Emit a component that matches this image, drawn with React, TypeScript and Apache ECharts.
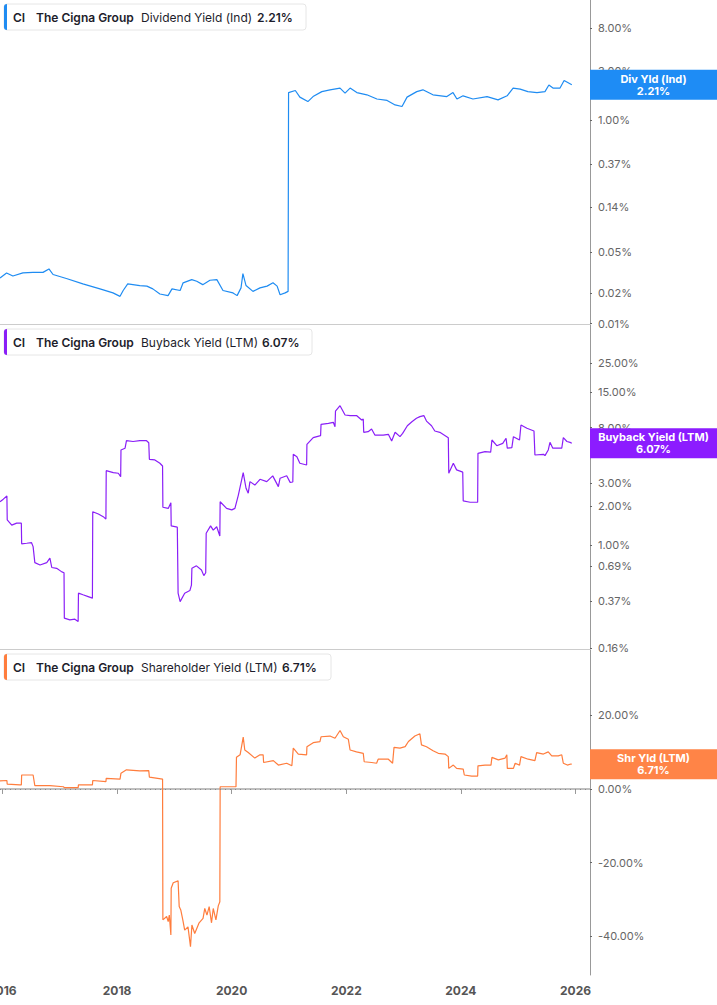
import React, { useEffect, useRef } from 'react'
import * as echarts from 'echarts'

// Dividend yield (indicated), %
const dividendYield: [string, number][] = [
  ['2015-12-17', 0.028], ['2016-01-28', 0.0314], ['2016-03-08', 0.0293], ['2016-05-11', 0.0314],
  ['2016-07-14', 0.0318], ['2016-09-16', 0.0318], ['2016-10-24', 0.0344], ['2016-11-19', 0.0303],
  ['2017-02-17', 0.0275], ['2017-05-28', 0.0245], ['2017-09-14', 0.0219], ['2017-12-06', 0.02],
  ['2018-01-20', 0.0185], ['2018-02-09', 0.0211], ['2018-03-10', 0.0245], ['2018-05-26', 0.0236],
  ['2018-07-10', 0.0233], ['2018-08-17', 0.0219], ['2018-10-01', 0.0195], ['2018-11-22', 0.0188],
  ['2018-12-17', 0.0219], ['2019-02-07', 0.0211], ['2019-02-26', 0.0251], ['2019-04-22', 0.027],
  ['2019-05-24', 0.026], ['2019-07-01', 0.0241], ['2019-08-16', 0.0266], ['2019-09-29', 0.027],
  ['2019-11-07', 0.0211], ['2020-01-10', 0.02], ['2020-02-05', 0.0188], ['2020-03-01', 0.0224],
  ['2020-03-13', 0.0309], ['2020-04-02', 0.0236], ['2020-05-16', 0.0207], ['2020-06-30', 0.0224],
  ['2020-08-14', 0.0233], ['2020-09-21', 0.0251], ['2020-10-17', 0.0233], ['2020-11-05', 0.0192],
  ['2020-12-07', 0.02], ['2020-12-26', 0.0207], ['2020-12-29', 1.85], ['2021-02-10', 1.94],
  ['2021-03-11', 1.67], ['2021-05-01', 1.51], ['2021-06-03', 1.69], ['2021-07-29', 1.89],
  ['2021-09-19', 1.97], ['2021-11-22', 2.05], ['2021-12-24', 1.83], ['2022-01-25', 2.05],
  ['2022-03-09', 1.85], ['2022-05-12', 1.76], ['2022-07-15', 1.6], ['2022-09-18', 1.55],
  ['2022-11-08', 1.4], ['2022-12-22', 1.35], ['2023-01-23', 1.67], ['2023-03-26', 1.89],
  ['2023-05-04', 1.97], ['2023-07-07', 1.76], ['2023-10-04', 1.69], ['2023-11-12', 1.85],
  ['2023-12-07', 1.6], ['2024-01-15', 1.72], ['2024-03-18', 1.6], ['2024-06-16', 1.69],
  ['2024-08-25', 1.57], ['2024-10-22', 1.72], ['2024-11-29', 2.05], ['2025-01-13', 2.0],
  ['2025-03-03', 1.89], ['2025-04-30', 1.85], ['2025-06-20', 1.89], ['2025-07-15', 2.2],
  ['2025-08-10', 2.05], ['2025-09-24', 2.05], ['2025-10-20', 2.43], ['2025-12-08', 2.21],
]

// Buyback yield (LTM), %
const buybackYield: [string, number][] = [
  ['2015-12-17', 2.15], ['2016-01-07', 2.25], ['2016-01-30', 2.38], ['2016-02-01', 1.56],
  ['2016-03-01', 1.42], ['2016-04-01', 1.47], ['2016-05-01', 1.47], ['2016-05-03', 1.02],
  ['2016-06-04', 1.03], ['2016-07-05', 1.04], ['2016-07-15', 0.97], ['2016-07-26', 0.73],
  ['2016-08-28', 0.7], ['2016-10-10', 0.73], ['2016-10-30', 0.79], ['2016-11-11', 0.67],
  ['2016-12-12', 0.66], ['2017-01-14', 0.62], ['2017-01-28', 0.61], ['2017-01-30', 0.273],
  ['2017-03-06', 0.265], ['2017-04-07', 0.268], ['2017-04-28', 0.257], ['2017-04-30', 0.425],
  ['2017-05-29', 0.413], ['2017-07-01', 0.4], ['2017-07-28', 0.389], ['2017-07-30', 1.8],
  ['2017-09-04', 1.73], ['2017-10-05', 1.65], ['2017-10-22', 1.58], ['2017-10-24', 3.73],
  ['2017-12-08', 3.6], ['2018-01-09', 3.56], ['2018-01-24', 3.35], ['2018-01-26', 5.38],
  ['2018-02-21', 5.55], ['2018-03-02', 6.34], ['2018-04-13', 6.25], ['2018-05-26', 6.34],
  ['2018-07-08', 6.34], ['2018-07-22', 6.12], ['2018-07-26', 4.56], ['2018-08-30', 4.51],
  ['2018-10-01', 4.25], ['2018-10-18', 4.05], ['2018-10-20', 1.95], ['2018-11-23', 1.91],
  ['2018-12-10', 2.11], ['2018-12-12', 1.4], ['2019-01-20', 1.37], ['2019-01-25', 0.425],
  ['2019-02-07', 0.366], ['2019-03-08', 0.425], ['2019-04-10', 0.445], ['2019-04-20', 0.49],
  ['2019-04-23', 0.66], ['2019-05-22', 0.69], ['2019-06-23', 0.64], ['2019-07-08', 0.58],
  ['2019-07-20', 0.61], ['2019-07-23', 1.23], ['2019-08-20', 1.4], ['2019-09-06', 1.3],
  ['2019-09-28', 1.38], ['2019-10-18', 1.17], ['2019-10-20', 2.15], ['2019-11-30', 1.91],
  ['2020-01-02', 1.86], ['2020-01-22', 1.91], ['2020-02-13', 2.42], ['2020-03-15', 3.6],
  ['2020-04-02', 2.73], ['2020-04-16', 2.5], ['2020-04-27', 3.07], ['2020-05-28', 2.89],
  ['2020-06-30', 3.2], ['2020-08-12', 3.07], ['2020-09-19', 3.4], ['2020-10-25', 2.81],
  ['2020-11-05', 3.26], ['2020-12-17', 3.41], ['2021-01-08', 3.03], ['2021-01-25', 3.05],
  ['2021-01-28', 4.98], ['2021-02-20', 4.78], ['2021-03-11', 4.25], ['2021-04-23', 4.12],
  ['2021-04-25', 5.95], ['2021-06-04', 6.69], ['2021-07-21', 6.93], ['2021-07-24', 8.48],
  ['2021-09-09', 8.63], ['2021-10-10', 8.78], ['2021-10-21', 8.13], ['2021-10-24', 10.7],
  ['2021-11-22', 11.8], ['2021-12-24', 10.0], ['2022-01-25', 9.9], ['2022-03-07', 9.9],
  ['2022-04-09', 9.15], ['2022-04-19', 9.3], ['2022-04-22', 7.36], ['2022-05-20', 7.44],
  ['2022-06-11', 7.8], ['2022-07-02', 7.01], ['2022-08-24', 7.01], ['2022-09-26', 7.1],
  ['2022-10-17', 6.31], ['2022-11-08', 7.36], ['2022-12-09', 6.81], ['2022-12-26', 7.22],
  ['2023-01-25', 8.27], ['2023-02-23', 8.87], ['2023-03-24', 9.43], ['2023-04-15', 9.71],
  ['2023-05-10', 9.9], ['2023-05-27', 8.98], ['2023-06-28', 8.27], ['2023-07-19', 7.53],
  ['2023-08-20', 7.36], ['2023-10-03', 6.81], ['2023-10-13', 6.69], ['2023-10-16', 3.56],
  ['2023-11-14', 4.25], ['2023-12-05', 3.78], ['2024-01-13', 3.63], ['2024-01-16', 2.18],
  ['2024-02-29', 2.13], ['2024-04-17', 2.13], ['2024-04-19', 5.07], ['2024-06-03', 5.22],
  ['2024-07-09', 5.17], ['2024-07-17', 6.42], ['2024-08-17', 5.8], ['2024-09-24', 6.05],
  ['2024-10-15', 6.62], ['2024-10-23', 5.55], ['2024-11-21', 5.61], ['2024-12-01', 6.81],
  ['2025-01-09', 6.42], ['2025-01-18', 8.38], ['2025-02-25', 7.9], ['2025-04-11', 7.53],
  ['2025-04-17', 4.92], ['2025-06-10', 4.98], ['2025-06-20', 4.87], ['2025-07-11', 5.38],
  ['2025-07-22', 6.16], ['2025-08-09', 5.55], ['2025-10-05', 5.55], ['2025-10-15', 6.69],
  ['2025-11-07', 6.25], ['2025-11-27', 6.16], ['2025-12-08', 6.07],
]

// Shareholder yield (LTM), %
const shareholderYield: [string, number][] = [
  ['2015-12-17', 2.2], ['2016-01-30', 2.3], ['2016-02-01', 1.3], ['2016-04-22', 1.1],
  ['2016-05-01', 1.1], ['2016-05-03', 3.8], ['2016-07-15', 3.8], ['2016-07-26', 0.9],
  ['2016-10-30', 0.9], ['2017-01-24', 0.6], ['2017-01-30', 0.35], ['2017-04-28', 0.35],
  ['2017-04-30', 1.1], ['2017-07-28', 1.1], ['2017-07-30', 2.3], ['2017-10-22', 2.0],
  ['2017-10-24', 2.9], ['2018-01-20', 2.7], ['2018-01-26', 4.3], ['2018-03-02', 5.2],
  ['2018-05-26', 4.9], ['2018-07-22', 5.0], ['2018-07-26', 3.2], ['2018-10-18', 2.7],
  ['2018-10-20', -35.6], ['2018-11-13', -34.7], ['2018-11-23', -36.1], ['2018-11-30', -34.3],
  ['2018-12-10', -39.7], ['2018-12-12', -27.0], ['2018-12-25', -25.5], ['2019-01-25', -25.0],
  ['2019-02-01', -32.0], ['2019-02-11', -32.9], ['2019-02-24', -35.6], ['2019-03-08', -38.4],
  ['2019-03-29', -37.5], ['2019-04-14', -42.9], ['2019-04-23', -37.0], ['2019-05-11', -39.3],
  ['2019-06-08', -36.4], ['2019-07-03', -35.2], ['2019-07-14', -32.5], ['2019-07-28', -34.3],
  ['2019-08-11', -32.0], ['2019-08-26', -36.4], ['2019-09-06', -32.5], ['2019-09-23', -35.6],
  ['2019-10-08', -31.8], ['2019-10-18', -30.7], ['2019-10-20', 0.6], ['2020-01-29', 0.6],
  ['2020-02-01', 8.6], ['2020-02-24', 9.3], ['2020-03-15', 14.1], ['2020-03-25', 10.6],
  ['2020-04-16', 9.9], ['2020-05-28', 8.4], ['2020-06-30', 9.3], ['2020-07-20', 9.3],
  ['2020-07-23', 7.2], ['2020-09-23', 7.7], ['2020-10-25', 6.5], ['2020-12-17', 7.0],
  ['2021-01-19', 6.3], ['2021-01-28', 11.1], ['2021-03-01', 9.5], ['2021-04-23', 9.3],
  ['2021-04-25', 11.5], ['2021-06-04', 12.6], ['2021-07-17', 12.9], ['2021-07-24', 14.2],
  ['2021-09-19', 14.4], ['2021-10-21', 13.8], ['2021-11-22', 15.9], ['2021-12-13', 14.2],
  ['2022-01-14', 13.5], ['2022-01-25', 10.6], ['2022-03-07', 10.1], ['2022-04-19', 9.7],
  ['2022-04-25', 7.4], ['2022-06-11', 7.2], ['2022-07-13', 7.0], ['2022-07-23', 8.1],
  ['2022-09-26', 8.1], ['2022-10-23', 7.0], ['2022-11-01', 11.3], ['2022-12-09', 11.1],
  ['2023-01-11', 11.5], ['2023-02-01', 12.9], ['2023-03-14', 14.4], ['2023-04-15', 15.0],
  ['2023-04-25', 12.0], ['2023-05-27', 11.5], ['2023-07-08', 10.4], ['2023-08-10', 9.7],
  ['2023-09-22', 9.5], ['2023-10-13', 8.8], ['2023-10-16', 5.6], ['2023-11-14', 6.5],
  ['2023-12-05', 5.6], ['2024-01-16', 5.4], ['2024-01-23', 3.8], ['2024-03-10', 3.5],
  ['2024-04-17', 3.5], ['2024-04-19', 6.3], ['2024-06-03', 6.5], ['2024-07-11', 6.5],
  ['2024-07-17', 8.6], ['2024-08-27', 7.9], ['2024-10-09', 8.4], ['2024-10-20', 9.3],
  ['2024-10-23', 5.6], ['2024-12-01', 5.6], ['2024-12-12', 7.0], ['2025-01-09', 6.5],
  ['2025-01-18', 8.8], ['2025-03-05', 8.1], ['2025-04-17', 7.7], ['2025-04-28', 9.9],
  ['2025-06-10', 9.5], ['2025-07-11', 10.1], ['2025-08-02', 9.0], ['2025-09-13', 9.0],
  ['2025-10-05', 9.3], ['2025-10-15', 7.0], ['2025-11-10', 6.5], ['2025-12-02', 6.8],
  ['2025-12-08', 6.71],
]

// Axis ticks
const yearTicks = ['2016-01-01', '2018-01-01', '2020-01-01', '2022-01-01', '2024-01-01', '2026-01-01']
const divTicks = [0.01, 0.02, 0.05, 0.14, 0.37, 1, 3, 8]
const buybackTicks = [0.16, 0.37, 0.69, 1, 2, 3, 6, 8, 15, 25]
const shareholderTicks = [-40, -20, 0, 20]

const X_MIN = '2015-12-17'
const X_MAX = '2026-04-03'

const panels = [
  { metric: 'Dividend Yield (Ind)', tag: 'Div Yld (Ind)', data: dividendYield, color: '#1f8cf2', tagColor: '#1e8cf5', top: 0, height: 324, valueX: 253, boxW: 302 },
  { metric: 'Buyback Yield (LTM)', tag: 'Buyback Yield (LTM)', data: buybackYield, color: '#8a1ff7', tagColor: '#8c1cff', top: 325, height: 324, valueX: 258, boxW: 308 },
  { metric: 'Shareholder Yield (LTM)', tag: 'Shr Yld (LTM)', data: shareholderYield, color: '#ff7d3d', tagColor: '#ff8447', top: 650, height: 325, valueX: 278, boxW: 327 },
]

const FONT = 'Inter, "Noto Sans", sans-serif'

const pct = (v: number) => `${v.toFixed(2)}%`
// dates go onto a numeric axis as timestamps
const ts = (d: string) => new Date(`${d}T00:00:00`).getTime()

const App: React.FC = () => {
  const chartRef = useRef<HTMLDivElement>(null)

  useEffect(() => {
    if (!chartRef.current) return
    const chart = echarts.init(chartRef.current, undefined, { renderer: 'svg' })

    const yearValues = yearTicks.map(ts)

    const yAxisBase = {
      position: 'right' as const,
      axisLine: { show: true, lineStyle: { color: '#999', width: 1 } },
      axisTick: { show: true, length: 2, lineStyle: { color: '#666' } },
      splitLine: { show: false },
      axisLabel: {
        color: '#666',
        fontSize: 11,
        fontFamily: FONT,
        margin: 8,
        formatter: (v: number) => pct(v),
      },
    }

    // legend boxes in the upper left of each panel
    const legendBoxes = panels.map((p) => {
      const last = p.data[p.data.length - 1][1]
      const txt = (x: number, text: string, bold: boolean) => ({
        type: 'text',
        x,
        y: 13,
        style: {
          text,
          fill: '#1d1d2b',
          font: `${bold ? 600 : 400} 12px ${FONT}`,
          verticalAlign: 'middle',
        },
      })
      return {
        type: 'group',
        x: 4,
        y: p.top + 4,
        children: [
          {
            type: 'rect',
            shape: { x: 0, y: 0, width: p.boxW, height: 26, r: 3 },
            style: { fill: '#fff', stroke: '#e6e6e6', lineWidth: 1 },
          },
          {
            type: 'rect',
            shape: { x: 0, y: 0, width: 3, height: 26, r: [3, 0, 0, 3] },
            style: { fill: p.color },
          },
          txt(9, 'CI', true),
          txt(32, 'The Cigna Group', true),
          txt(137, p.metric, false),
          txt(p.valueX, pct(last), true),
        ],
      }
    })

    const option: any = {
      animation: false,
      grid: panels.map((p) => ({
        left: 0,
        right: 127,
        top: p.top,
        height: p.height,
        containLabel: false,
        outerBoundsMode: 'none',
      })),
      xAxis: panels.map((_, i) => ({
        type: 'value',
        gridIndex: i,
        min: ts(X_MIN),
        max: ts(X_MAX),
        axisLine: { show: true, lineStyle: { color: i === 2 ? '#aaa' : '#ccc', width: i === 2 ? 1.5 : 1 } },
        axisTick: {
          show: i === 2,
          length: 5,
          lineStyle: { color: '#999' },
          customValues: yearValues,
        },
        axisLabel: {
          show: i === 2,
          customValues: yearValues,
          color: '#555',
          fontSize: 12,
          fontWeight: 'bold',
          fontFamily: FONT,
          margin: 9,
          formatter: (v: number) => String(new Date(v).getFullYear()),
        },
        splitLine: { show: false },
      })),
      yAxis: [
        {
          ...yAxisBase,
          type: 'log',
          gridIndex: 0,
          min: 0.0099,
          max: 15,
          axisTick: { ...yAxisBase.axisTick, customValues: divTicks },
          axisLabel: { ...yAxisBase.axisLabel, customValues: divTicks },
        },
        {
          ...yAxisBase,
          type: 'log',
          gridIndex: 1,
          min: 0.158,
          max: 49.3,
          axisTick: { ...yAxisBase.axisTick, customValues: buybackTicks },
          axisLabel: { ...yAxisBase.axisLabel, customValues: buybackTicks },
        },
        {
          ...yAxisBase,
          type: 'value',
          gridIndex: 2,
          min: -50.6,
          max: 37.8,
          axisTick: { ...yAxisBase.axisTick, customValues: shareholderTicks },
          axisLabel: { ...yAxisBase.axisLabel, customValues: shareholderTicks },
        },
      ],
      series: panels.map((p, i) => {
        const last = p.data[p.data.length - 1][1]
        return {
          type: 'line',
          xAxisIndex: i,
          yAxisIndex: i,
          data: p.data.map(([d, v]) => [ts(d), v]),
          showSymbol: false,
          symbol: 'none',
          lineStyle: { color: p.color, width: 1.2 },
          itemStyle: { color: p.color },
          z: 3,
          markLine:
            i === 2
              ? {
                  silent: true,
                  symbol: 'none',
                  label: { show: false },
                  lineStyle: { color: '#888', type: [1, 4], width: 1.2 },
                  data: [{ yAxis: 0 }],
                }
              : undefined,
          markPoint: {
            silent: true,
            data: [
              {
                coord: [ts(X_MAX), last],
                symbol: 'rect',
                symbolSize: [127, 30],
                symbolOffset: [63.5, 0],
                itemStyle: { color: p.tagColor },
                label: {
                  show: true,
                  position: 'inside',
                  formatter: `${p.tag}\n${pct(last)}`,
                  color: '#fff',
                  fontSize: 11,
                  fontWeight: 'bold',
                  fontFamily: FONT,
                  lineHeight: 12,
                  align: 'center',
                },
              },
            ],
          },
        }
      }),
      graphic: legendBoxes,
    }

    chart.setOption(option)

    return () => {
      chart.dispose()
    }
  }, [])

  return (
    <div
      ref={chartRef}
      style={{
        position: 'fixed',
        left: 0,
        top: 0,
        width: '717px',
        height: '1005px',
        background: '#fff',
      }}
    />
  )
}

export default App
